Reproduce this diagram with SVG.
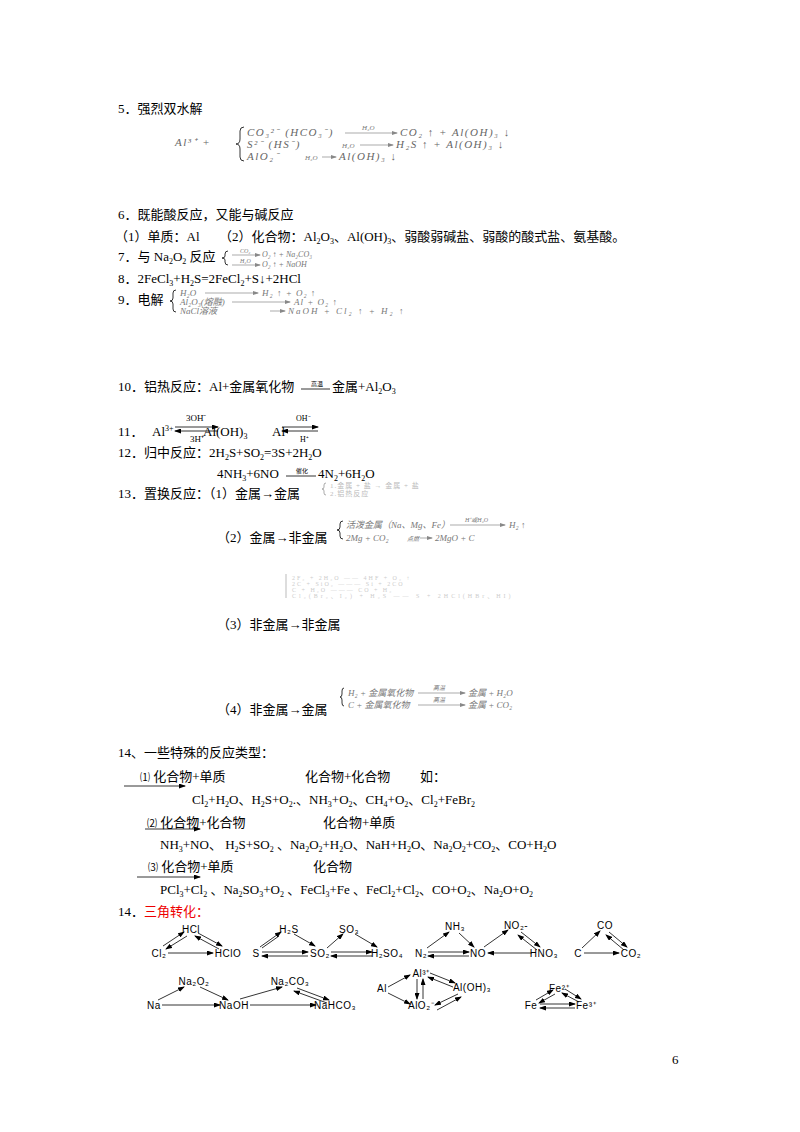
<svg xmlns="http://www.w3.org/2000/svg" width="800" height="1132" viewBox="0 0 800 1132">
<style>
text{font-family:"Liberation Serif","Noto Sans CJK SC",serif;font-size:13px;fill:#000}
.s{font-size:9px;fill:#777;font-style:italic}
.b{font-size:11px;fill:#666;font-style:italic;letter-spacing:1.5px}
.g{font-size:8px;fill:#bbb}
.t{font-family:"Liberation Sans","Noto Sans CJK SC",sans-serif;font-size:10px;text-anchor:middle;letter-spacing:0.5px}
.sm{font-size:8px}
.ln{stroke:#000;stroke-width:0.8;fill:none}
.lg{stroke:#888;stroke-width:0.7;fill:none}
</style>
<defs>
<marker id="a" markerWidth="7" markerHeight="5" refX="6" refY="2.5" orient="auto" markerUnits="userSpaceOnUse"><path d="M0,0L7,2.5L0,5z" fill="#000"/></marker>
<marker id="ag" markerWidth="6" markerHeight="4" refX="5" refY="2" orient="auto" markerUnits="userSpaceOnUse"><path d="M0,0L6,2L0,4z" fill="#888"/></marker>
</defs>
<rect width="800" height="1132" fill="#fff"/>

<g id="sec5">
<text x="118" y="113">5．强烈双水解</text>
<text x="175" y="146" class="b">Al³⁺ +</text>
<path d="M244,127 q-4,0 -4,4 v8 q0,5 -4,5 q4,0 4,5 v8 q0,4 4,4" class="ln"/>
<text x="247" y="136" class="b">CO₃²⁻ (HCO₃⁻)</text>
<line x1="345" y1="133" x2="397" y2="133" class="lg" marker-end="url(#ag)"/>
<text x="362" y="130" class="s" style="font-size:7px">H₂O</text>
<text x="400" y="136" class="b">CO₂ ↑ + Al(OH)₃ ↓</text>
<text x="247" y="148" class="b">S²⁻ (HS⁻)</text>
<text x="342" y="148" class="s" style="font-size:7px">H₂O</text>
<line x1="360" y1="145" x2="393" y2="145" class="lg" marker-end="url(#ag)"/>
<text x="396" y="148" class="b">H₂S ↑ + Al(OH)₃ ↓</text>
<text x="247" y="160" class="b">AlO₂⁻</text>
<text x="305" y="160" class="s" style="font-size:7px">H₂O</text>
<line x1="322" y1="157" x2="336" y2="157" class="lg" marker-end="url(#ag)"/>
<text x="339" y="160" class="b">Al(OH)₃ ↓</text>
</g>

<g id="sec6">
<text x="118" y="219">6．既能酸反应，又能与碱反应</text>
<text x="115" y="241">（1）单质：Al　　（2）化合物：Al<tspan class="sm" dy="3">2</tspan><tspan dy="-3">O</tspan><tspan class="sm" dy="3">3</tspan><tspan dy="-3">、Al(OH)</tspan><tspan class="sm" dy="3">3</tspan><tspan dy="-3">、弱酸弱碱盐、弱酸的酸式盐、氨基酸。</tspan></text>
</g>

<g id="sec7">
<text x="118" y="261">7．与 Na<tspan class="sm" dy="3">2</tspan><tspan dy="-3">O</tspan><tspan class="sm" dy="3">2</tspan><tspan dy="-3"> 反应</tspan></text>
<path d="M228,251 q-3,0 -3,3 v2 q0,2 -3,2 q3,0 3,2 v2 q0,3 3,3" class="ln"/>
<line x1="232" y1="255" x2="260" y2="255" class="lg" marker-end="url(#ag)"/>
<text x="240" y="253" class="s" style="font-size:6px">CO₂</text>
<text x="262" y="257" class="s" style="font-size:8px">O₂ ↑ + Na₂CO₃</text>
<line x1="232" y1="265" x2="260" y2="265" class="lg" marker-end="url(#ag)"/>
<text x="240" y="263" class="s" style="font-size:6px">H₂O</text>
<text x="262" y="267" class="s" style="font-size:8px">O₂ ↑ + NaOH</text>
</g>

<g id="sec8">
<text x="118" y="283">8．2FeCl<tspan class="sm" dy="3">3</tspan><tspan dy="-3">+H</tspan><tspan class="sm" dy="3">2</tspan><tspan dy="-3">S=2FeCl</tspan><tspan class="sm" dy="3">2</tspan><tspan dy="-3">+S↓+2HCl</tspan></text>
</g>

<g id="sec9">
<text x="118" y="304">9．电解</text>
<path d="M176,290 q-3,0 -3,3 v5 q0,3 -3,3 q3,0 3,3 v5 q0,3 3,3" class="ln"/>
<text x="180" y="296" class="s">H₂O</text>
<line x1="205" y1="293" x2="258" y2="293" class="lg" marker-end="url(#ag)"/>
<text x="262" y="296" class="s" style="letter-spacing:1px">H₂ ↑ + O₂ ↑</text>
<text x="180" y="305" class="s">Al₂O₃(熔融)</text>
<line x1="232" y1="302" x2="290" y2="302" class="lg" marker-end="url(#ag)"/>
<text x="294" y="305" class="s" style="letter-spacing:1px">Al + O₂ ↑</text>
<text x="180" y="314" class="s">NaCl溶液</text>
<line x1="270" y1="311" x2="285" y2="311" class="lg" marker-end="url(#ag)"/>
<text x="288" y="314" class="s" style="letter-spacing:2px">NaOH + Cl₂ ↑ + H₂ ↑</text>
</g>

<g id="sec10">
<text x="118" y="391">10．铝热反应：Al+金属氧化物</text>
<line x1="301" y1="389" x2="330" y2="389" class="ln"/>
<text x="311" y="386" style="font-size:6px">高温</text>
<text x="332" y="391">金属+Al<tspan class="sm" dy="3">2</tspan><tspan dy="-3">O</tspan><tspan class="sm" dy="3">3</tspan></text>
</g>

<g id="sec11">
<text x="118" y="436">11．</text>
<text x="152" y="436">Al<tspan class="sm" dy="-5">3+</tspan></text>
<line x1="175" y1="427" x2="218" y2="427" class="ln" marker-end="url(#a)"/>
<line x1="218" y1="431" x2="175" y2="431" class="ln" marker-end="url(#a)"/>
<text x="186" y="421" style="font-size:9px">3OH⁻</text>
<text x="190" y="442" style="font-size:9px">3H⁺</text>
<text x="203" y="436">Al(OH)<tspan class="sm" dy="3">3</tspan></text>
<text x="272" y="436">Al</text>
<line x1="282" y1="427" x2="318" y2="427" class="ln" marker-end="url(#a)"/>
<line x1="318" y1="431" x2="282" y2="431" class="ln" marker-end="url(#a)"/>
<text x="296" y="421" style="font-size:8px">OH⁻</text>
<text x="300" y="442" style="font-size:8px">H⁺</text>
</g>

<g id="sec12">
<text x="118" y="457">12．归中反应：2H<tspan class="sm" dy="3">2</tspan><tspan dy="-3">S+SO</tspan><tspan class="sm" dy="3">2</tspan><tspan dy="-3">=3S+2H</tspan><tspan class="sm" dy="3">2</tspan><tspan dy="-3">O</tspan></text>
<text x="217" y="478">4NH<tspan class="sm" dy="3">3</tspan><tspan dy="-3">+6NO</tspan></text>
<line x1="286" y1="476" x2="316" y2="476" class="ln"/>
<text x="296" y="473" style="font-size:6px">催化</text>
<text x="318" y="478">4N<tspan class="sm" dy="3">2</tspan><tspan dy="-3">+6H</tspan><tspan class="sm" dy="3">2</tspan><tspan dy="-3">O</tspan></text>
</g>

<g id="sec13">
<text x="118" y="498">13．置换反应：（1）金属→金属</text>
<path d="M326,483 q-2,0 -2,2 v2 q0,2 -2,2 q2,0 2,2 v2 q0,2 2,2" class="lg"/>
<text x="330" y="488" class="g" style="font-size:7px;letter-spacing:1px">1.金属 + 盐 → 金属 + 盐</text>
<text x="330" y="496" class="g" style="font-size:7px;letter-spacing:1px">2.铝热反应</text>

<text x="217" y="542">（2）金属→非金属</text>
<path d="M343,521 q-3,0 -3,3 v3 q0,3 -3,3 q3,0 3,3 v3 q0,3 3,3" class="ln"/>
<text x="346" y="528" class="s">活泼金属（Na、Mg、Fe）</text>
<line x1="450" y1="525" x2="505" y2="525" class="lg" marker-end="url(#ag)"/>
<text x="465" y="522" class="s" style="font-size:6px">H⁺或H₂O</text>
<text x="509" y="528" class="s">H₂ ↑</text>
<text x="346" y="541" class="s">2Mg + CO₂</text>
<text x="407" y="541" class="s" style="font-size:6px">点燃</text>
<line x1="420" y1="538" x2="432" y2="538" class="lg" marker-end="url(#ag)"/>
<text x="435" y="541" class="s">2MgO + C</text>

<path d="M286,574 v24" stroke="#ddd" stroke-width="2"/>
<text x="292" y="580" class="g" style="fill:#ccc;font-size:6px;letter-spacing:2px">2F₂ + 2H₂O —— 4HF + O₂ ↑</text>
<text x="292" y="586" class="g" style="fill:#ccc;font-size:6px;letter-spacing:2px">2C + SiO₂ ——— Si + 2CO</text>
<text x="292" y="592" class="g" style="fill:#ccc;font-size:6px;letter-spacing:2px">C + H₂O ——— CO + H₂</text>
<text x="292" y="598" class="g" style="fill:#ccc;font-size:6px;letter-spacing:3px">Cl₂(Br₂、I₂) + H₂S —— S + 2HCl(HBr、HI)</text>

<text x="217" y="629">（3）非金属→非金属</text>

<text x="217" y="714">（4）非金属→金属</text>
<path d="M344,688 q-2,0 -2,3 v3 q0,3 -2,3 q2,0 2,3 v3 q0,3 2,3" class="ln"/>
<text x="348" y="696" class="s">H₂ + 金属氧化物</text>
<line x1="418" y1="693" x2="465" y2="693" class="lg" marker-end="url(#ag)"/>
<text x="433" y="690" class="s" style="font-size:6px">高温</text>
<text x="468" y="696" class="s">金属 + H₂O</text>
<text x="348" y="708" class="s">C + 金属氧化物</text>
<line x1="418" y1="705" x2="465" y2="705" class="lg" marker-end="url(#ag)"/>
<text x="433" y="702" class="s" style="font-size:6px">高温</text>
<text x="468" y="708" class="s">金属 + CO₂</text>
</g>

<g id="sec14">
<text x="118" y="757">14、一些特殊的反应类型：</text>
<text x="140" y="781"><tspan style="font-size:10px">⑴</tspan> 化合物+单质</text>
<line x1="124" y1="786" x2="185" y2="786" class="ln" marker-end="url(#a)"/>
<text x="305" y="781">化合物+化合物</text>
<text x="420" y="781">如：</text>
<text x="192" y="804">Cl<tspan class="sm" dy="3">2</tspan><tspan dy="-3">+H</tspan><tspan class="sm" dy="3">2</tspan><tspan dy="-3">O、H</tspan><tspan class="sm" dy="3">2</tspan><tspan dy="-3">S+O</tspan><tspan class="sm" dy="3">2</tspan><tspan dy="-3">.、NH</tspan><tspan class="sm" dy="3">3</tspan><tspan dy="-3">+O</tspan><tspan class="sm" dy="3">2</tspan><tspan dy="-3">、CH</tspan><tspan class="sm" dy="3">4</tspan><tspan dy="-3">+O</tspan><tspan class="sm" dy="3">2</tspan><tspan dy="-3">、Cl</tspan><tspan class="sm" dy="3">2</tspan><tspan dy="-3">+FeBr</tspan><tspan class="sm" dy="3">2</tspan></text>
<text x="147" y="827"><tspan style="font-size:10px">⑵</tspan> 化合物+化合物</text>
<line x1="145" y1="829" x2="200" y2="829" class="ln" marker-end="url(#a)"/>
<text x="323" y="827">化合物+单质</text>
<text x="160" y="849">NH<tspan class="sm" dy="3">3</tspan><tspan dy="-3">+NO、 H</tspan><tspan class="sm" dy="3">2</tspan><tspan dy="-3">S+SO</tspan><tspan class="sm" dy="3">2</tspan><tspan dy="-3"> 、Na</tspan><tspan class="sm" dy="3">2</tspan><tspan dy="-3">O</tspan><tspan class="sm" dy="3">2</tspan><tspan dy="-3">+H</tspan><tspan class="sm" dy="3">2</tspan><tspan dy="-3">O、NaH+H</tspan><tspan class="sm" dy="3">2</tspan><tspan dy="-3">O、Na</tspan><tspan class="sm" dy="3">2</tspan><tspan dy="-3">O</tspan><tspan class="sm" dy="3">2</tspan><tspan dy="-3">+CO</tspan><tspan class="sm" dy="3">2</tspan><tspan dy="-3">、CO+H</tspan><tspan class="sm" dy="3">2</tspan><tspan dy="-3">O</tspan></text>
<text x="148" y="871"><tspan style="font-size:10px">⑶</tspan> 化合物+单质</text>
<line x1="137" y1="877" x2="200" y2="877" class="ln" marker-end="url(#a)"/>
<text x="313" y="871">化合物</text>
<text x="160" y="894">PCl<tspan class="sm" dy="3">3</tspan><tspan dy="-3">+Cl</tspan><tspan class="sm" dy="3">2</tspan><tspan dy="-3"> 、Na</tspan><tspan class="sm" dy="3">2</tspan><tspan dy="-3">SO</tspan><tspan class="sm" dy="3">3</tspan><tspan dy="-3">+O</tspan><tspan class="sm" dy="3">2</tspan><tspan dy="-3"> 、FeCl</tspan><tspan class="sm" dy="3">3</tspan><tspan dy="-3">+Fe 、FeCl</tspan><tspan class="sm" dy="3">2</tspan><tspan dy="-3">+Cl</tspan><tspan class="sm" dy="3">2</tspan><tspan dy="-3">、CO+O</tspan><tspan class="sm" dy="3">2</tspan><tspan dy="-3">、Na</tspan><tspan class="sm" dy="3">2</tspan><tspan dy="-3">O+O</tspan><tspan class="sm" dy="3">2</tspan></text>
<text x="118" y="916">14．<tspan style="fill:#e00">三角转化：</tspan></text>
</g>

<g id="tri-labels">
<text class="t" x="191" y="933">HCl</text>
<text class="t" x="159" y="957">Cl₂</text>
<text class="t" x="228" y="957">HClO</text>
<text class="t" x="256" y="957">S</text>
<text class="t" x="289" y="933">H₂S</text>
<text class="t" x="320" y="957">SO₂</text>
<text class="t" x="349" y="933">SO₃</text>
<text class="t" x="387" y="957">H₂SO₄</text>
<text class="t" x="421" y="957">N₂</text>
<text class="t" x="455" y="930">NH₃</text>
<text class="t" x="478" y="957">NO</text>
<text class="t" x="516" y="929">NO₂-</text>
<text class="t" x="544" y="957">HNO₃</text>
<text class="t" x="578" y="957">C</text>
<text class="t" x="605" y="929">CO</text>
<text class="t" x="631" y="957">CO₂</text>
<text class="t" x="154" y="1009">Na</text>
<text class="t" x="194" y="985">Na₂O₂</text>
<text class="t" x="234" y="1009">NaOH</text>
<text class="t" x="290" y="985">Na₂CO₃</text>
<text class="t" x="335" y="1009">NaHCO₃</text>
<text class="t" x="382" y="992">Al</text>
<text class="t" x="421" y="977">Al³⁺</text>
<text class="t" x="472" y="991">Al(OH)₃</text>
<text class="t" x="421" y="1009">AlO₂⁻</text>
<text class="t" x="531" y="1009">Fe</text>
<text class="t" x="559" y="992">Fe²⁺</text>
<text class="t" x="586" y="1009">Fe³⁺</text>
</g>

<g id="connectors" class="ln">
<line x1="168" y1="953" x2="213" y2="953" marker-end="url(#a)"/>
<line x1="163" y1="946" x2="184" y2="932" marker-end="url(#a)"/>
<line x1="187" y1="936" x2="166" y2="949" marker-end="url(#a)"/>
<line x1="198" y1="933" x2="222" y2="946" marker-end="url(#a)"/>
<line x1="219" y1="949" x2="195" y2="936" marker-end="url(#a)"/>
<line x1="260" y1="947" x2="281" y2="932" marker-end="url(#a)"/>
<line x1="279" y1="936" x2="262" y2="948"/>
<line x1="294" y1="934" x2="315" y2="946" marker-end="url(#a)"/>
<line x1="262" y1="952" x2="308" y2="952" marker-end="url(#a)"/>
<line x1="308" y1="956" x2="262" y2="956" marker-end="url(#a)"/>
<line x1="327" y1="948" x2="343" y2="934" marker-end="url(#a)"/>
<line x1="355" y1="934" x2="377" y2="947" marker-end="url(#a)"/>
<line x1="331" y1="952" x2="372" y2="952" marker-end="url(#a)"/>
<line x1="372" y1="956" x2="331" y2="956" marker-end="url(#a)"/>
<line x1="427" y1="948" x2="449" y2="932" marker-end="url(#a)"/>
<line x1="459" y1="933" x2="474" y2="947" marker-end="url(#a)"/>
<line x1="428" y1="952" x2="469" y2="952" marker-end="url(#a)"/>
<line x1="469" y1="956" x2="428" y2="956" marker-end="url(#a)"/>
<line x1="484" y1="947" x2="508" y2="930" marker-end="url(#a)"/>
<line x1="521" y1="932" x2="540" y2="947" marker-end="url(#a)"/>
<line x1="537" y1="950" x2="518" y2="935" marker-end="url(#a)"/>
<line x1="532" y1="953" x2="488" y2="953" marker-end="url(#a)"/>
<line x1="582" y1="948" x2="600" y2="931" marker-end="url(#a)"/>
<line x1="609" y1="932" x2="627" y2="947" marker-end="url(#a)"/>
<line x1="624" y1="950" x2="606" y2="935" marker-end="url(#a)"/>
<line x1="584" y1="953" x2="619" y2="953" marker-end="url(#a)"/>
<line x1="158" y1="1000" x2="184" y2="987" marker-end="url(#a)"/>
<line x1="200" y1="987" x2="228" y2="1000" marker-end="url(#a)"/>
<line x1="162" y1="1005" x2="220" y2="1005" marker-end="url(#a)"/>
<line x1="240" y1="999" x2="282" y2="987" marker-end="url(#a)"/>
<line x1="250" y1="1005" x2="316" y2="1005" marker-end="url(#a)"/>
<line x1="297" y1="988" x2="329" y2="1000" marker-end="url(#a)"/>
<line x1="327" y1="1003" x2="294" y2="991" marker-end="url(#a)"/>
<line x1="388" y1="987" x2="410" y2="975" marker-end="url(#a)"/>
<line x1="388" y1="993" x2="410" y2="1004" marker-end="url(#a)"/>
<line x1="417" y1="979" x2="417" y2="999" marker-end="url(#a)"/>
<line x1="423" y1="999" x2="423" y2="979" marker-end="url(#a)"/>
<line x1="430" y1="973" x2="455" y2="983" marker-end="url(#a)"/>
<line x1="453" y1="987" x2="428" y2="977" marker-end="url(#a)"/>
<line x1="458" y1="994" x2="435" y2="1005" marker-end="url(#a)"/>
<line x1="437" y1="1010" x2="461" y2="997" marker-end="url(#a)"/>
<line x1="536" y1="1000" x2="553" y2="990" marker-end="url(#a)"/>
<line x1="555" y1="994" x2="539" y2="1003" marker-end="url(#a)"/>
<line x1="565" y1="989" x2="581" y2="999" marker-end="url(#a)"/>
<line x1="579" y1="1002" x2="562" y2="993" marker-end="url(#a)"/>
<line x1="540" y1="1004" x2="575" y2="1004" marker-end="url(#a)"/>
<line x1="575" y1="1008" x2="540" y2="1008" marker-end="url(#a)"/>
</g>

<text x="672" y="1064">6</text>
</svg>
